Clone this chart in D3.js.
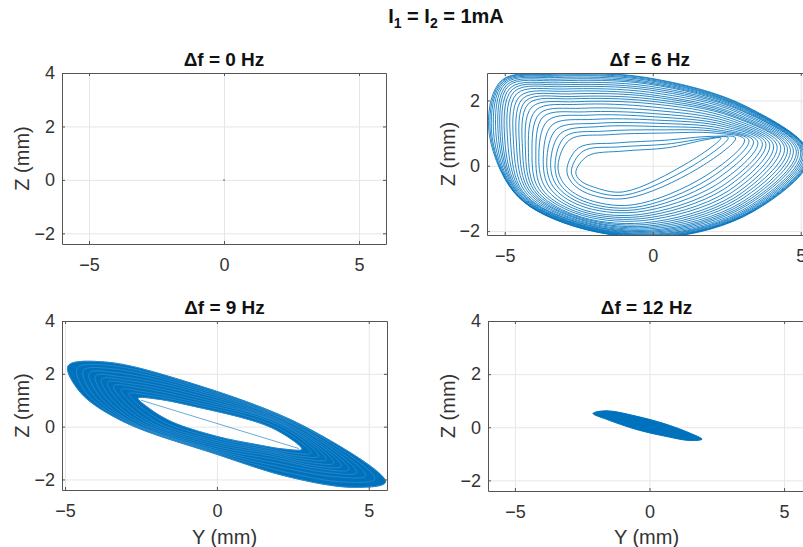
<!DOCTYPE html>
<html>
<head>
<meta charset="utf-8">
<script src="https://cdn.jsdelivr.net/npm/d3@7"></script>
<style>
  body { margin: 0; background: #fff; }
  svg { display: block; font-family: "Liberation Sans", Arial, sans-serif; }
</style>
</head>
<body>
<svg id="fig" width="803" height="547"></svg>
<script>
// ---- data (in mm) ----
const xTicks = [-5, 0, 5];
const zTicksTall = [-2, 0, 2, 4];
const zTicksShort = [-2, 0, 2];
const panelTitles = ["\u0394f = 0 Hz", "\u0394f = 6 Hz", "\u0394f = 9 Hz", "\u0394f = 12 Hz"];

// df = 0 Hz : the trajectory sits at the origin
const trace0 = [[0, 0]];

// df = 6 Hz : loops of the attractor, roughly inner to outer
const loops6 = [
  [[-2.6,-0.2],[-2.2,0.3],[-1.0,0.45],[0.5,0.55],[1.8,0.8],[2.3,0.85],[1.2,0.1],[-1.0,-0.8],[-2.0,-0.65],[-2.45,-0.45]],
  [[-2.75,-0.15],[-2.35,0.45],[-1.1,0.58],[0.45,0.66],[1.9,0.85],[2.55,0.86],[1.35,0.0],[-0.95,-0.9],[-2.1,-0.75],[-2.6,-0.48]],
  [[-2.9,-0.1],[-2.5,0.55],[-1.2,0.7],[0.4,0.78],[2.0,0.9],[2.8,0.85],[1.5,-0.1],[-0.9,-1.0],[-2.2,-0.85],[-2.75,-0.5]],
  [[-3.2,0.0],[-2.8,0.8],[-1.5,0.95],[0.3,1.0],[2.1,1.0],[3.1,0.8],[1.8,-0.3],[-0.7,-1.2],[-2.3,-1.0],[-3.0,-0.55]],
  [[-3.3,0.05],[-2.95,0.9],[-1.65,1.06],[0.25,1.1],[2.15,1.05],[3.25,0.78],[1.9,-0.4],[-0.65,-1.28],[-2.35,-1.08],[-3.12,-0.58]],
  [[-3.45,0.1],[-3.1,1.0],[-1.8,1.2],[0.2,1.2],[2.2,1.1],[3.4,0.75],[2.0,-0.5],[-0.6,-1.35],[-2.4,-1.15],[-3.25,-0.6]],
  [[-3.58,0.15],[-3.25,1.12],[-1.9,1.3],[0.15,1.3],[2.3,1.15],[3.55,0.72],[2.15,-0.58],[-0.55,-1.42],[-2.45,-1.22],[-3.38,-0.62]],
  [[-3.7,0.2],[-3.4,1.25],[-2.0,1.42],[0.1,1.4],[2.4,1.2],[3.7,0.7],[2.3,-0.65],[-0.5,-1.5],[-2.5,-1.3],[-3.5,-0.65]],
  [[-3.85,0.25],[-3.55,1.38],[-2.15,1.55],[0.05,1.5],[2.45,1.25],[3.82,0.68],[2.4,-0.72],[-0.45,-1.56],[-2.55,-1.35],[-3.62,-0.68]],
  [[-3.95,0.3],[-3.7,1.5],[-2.3,1.65],[0.0,1.6],[2.5,1.3],[3.95,0.65],[2.5,-0.8],[-0.4,-1.62],[-2.6,-1.4],[-3.75,-0.7]],
  [[-4.08,0.35],[-3.82,1.6],[-2.4,1.76],[0.0,1.7],[2.55,1.35],[4.08,0.62],[2.6,-0.86],[-0.35,-1.68],[-2.62,-1.45],[-3.85,-0.71]],
  [[-4.2,0.4],[-3.95,1.7],[-2.5,1.88],[0.0,1.8],[2.6,1.4],[4.2,0.6],[2.7,-0.92],[-0.3,-1.75],[-2.65,-1.5],[-3.95,-0.72]],
  [[-4.3,0.45],[-4.08,1.8],[-2.6,1.96],[-0.05,1.9],[2.65,1.45],[4.32,0.58],[2.78,-0.97],[-0.25,-1.8],[-2.68,-1.52],[-4.02,-0.74]],
  [[-4.4,0.5],[-4.2,1.9],[-2.7,2.05],[-0.1,1.98],[2.7,1.5],[4.45,0.55],[2.85,-1.02],[-0.2,-1.85],[-2.7,-1.55],[-4.1,-0.75]],
  [[-4.5,0.55],[-4.3,1.98],[-2.75,2.12],[-0.1,2.05],[2.75,1.52],[4.55,0.52],[2.92,-1.07],[-0.15,-1.89],[-2.72,-1.57],[-4.18,-0.75]],
  [[-4.6,0.6],[-4.4,2.05],[-2.8,2.2],[-0.1,2.12],[2.8,1.55],[4.65,0.5],[3.0,-1.12],[-0.1,-1.93],[-2.75,-1.6],[-4.25,-0.76]],
  [[-4.7,0.65],[-4.5,2.12],[-2.9,2.28],[-0.1,2.18],[2.85,1.58],[4.75,0.48],[3.05,-1.16],[-0.05,-1.97],[-2.78,-1.62],[-4.33,-0.77]],
  [[-4.8,0.7],[-4.6,2.2],[-3.0,2.35],[-0.1,2.25],[2.9,1.62],[4.85,0.45],[3.1,-1.2],[0.0,-2.0],[-2.8,-1.65],[-4.4,-0.78]],
  [[-4.9,0.75],[-4.68,2.27],[-3.05,2.42],[-0.12,2.32],[2.95,1.65],[4.92,0.44],[3.15,-1.23],[0.05,-2.03],[-2.82,-1.66],[-4.45,-0.78]],
  [[-5.0,0.8],[-4.75,2.33],[-3.1,2.48],[-0.15,2.38],[3.0,1.68],[5.0,0.42],[3.2,-1.27],[0.1,-2.06],[-2.85,-1.68],[-4.5,-0.78]],
  [[-5.08,0.85],[-4.82,2.38],[-3.15,2.54],[-0.15,2.44],[3.02,1.7],[5.05,0.4],[3.24,-1.3],[0.15,-2.09],[-2.88,-1.69],[-4.54,-0.79]],
  [[-5.15,0.9],[-4.88,2.44],[-3.2,2.6],[-0.15,2.5],[3.05,1.72],[5.1,0.38],[3.28,-1.32],[0.2,-2.11],[-2.9,-1.7],[-4.58,-0.79]],
  [[-5.22,0.95],[-4.93,2.48],[-3.24,2.65],[-0.18,2.54],[3.08,1.74],[5.15,0.36],[3.31,-1.34],[0.22,-2.13],[-2.92,-1.71],[-4.61,-0.79]],
  [[-5.3,1.0],[-4.98,2.52],[-3.28,2.7],[-0.2,2.58],[3.1,1.76],[5.2,0.35],[3.34,-1.36],[0.25,-2.15],[-2.95,-1.72],[-4.64,-0.8]],
  [[-5.38,1.05],[-5.02,2.55],[-3.32,2.74],[-0.2,2.62],[3.12,1.77],[5.23,0.33],[3.36,-1.37],[0.27,-2.17],[-2.97,-1.73],[-4.66,-0.8]],
  [[-5.45,1.1],[-5.05,2.58],[-3.35,2.77],[-0.2,2.65],[3.15,1.78],[5.26,0.32],[3.38,-1.38],[0.28,-2.18],[-2.98,-1.74],[-4.68,-0.8]],
  [[-5.5,1.15],[-5.08,2.6],[-3.38,2.8],[-0.2,2.68],[3.18,1.79],[5.28,0.31],[3.39,-1.39],[0.29,-2.19],[-2.99,-1.75],[-4.69,-0.8]],
  [[-5.55,1.2],[-5.1,2.62],[-3.4,2.82],[-0.2,2.7],[3.2,1.8],[5.3,0.3],[3.4,-1.4],[0.3,-2.2],[-3.0,-1.75],[-4.7,-0.8]]
];

// df = 9 Hz : tilted ring, inner edge first, outer edge last
const loops9 = [
  [[-2.6,1.08],[-2.0,1.05],[-1.0,0.83],[1.8,-0.04],[2.8,-0.86],[2.2,-0.85],[1.26,-0.67],[0.0,-0.37],[-1.5,0.19],[-2.3,0.75]],
  [[-2.9,1.25],[-2.2,1.18],[-1.0,0.92],[1.9,0.02],[3.1,-1.0],[2.4,-0.98],[1.4,-0.76],[0.0,-0.45],[-1.7,0.15],[-2.6,0.85]],
  [[-3.15,1.4],[-2.4,1.32],[-1.0,1.0],[2.0,0.08],[3.35,-1.12],[2.6,-1.1],[1.5,-0.85],[0.0,-0.53],[-1.9,0.12],[-2.85,0.93]],
  [[-3.4,1.55],[-2.6,1.48],[-1.0,1.1],[2.1,0.1],[3.6,-1.25],[2.8,-1.22],[1.6,-0.93],[0.0,-0.6],[-2.1,0.12],[-3.1,1.0]],
  [[-3.6,1.68],[-2.8,1.62],[-1.0,1.2],[2.2,0.08],[3.85,-1.38],[3.0,-1.35],[1.7,-1.02],[0.0,-0.68],[-2.3,0.15],[-3.3,1.05]],
  [[-3.8,1.8],[-3.0,1.76],[-1.0,1.3],[2.3,0.08],[4.1,-1.5],[3.2,-1.48],[1.8,-1.12],[0.0,-0.76],[-2.5,0.17],[-3.5,1.1]],
  [[-4.0,1.92],[-3.2,1.9],[-1.0,1.4],[2.4,0.07],[4.35,-1.62],[3.4,-1.6],[1.95,-1.25],[0.0,-0.84],[-2.65,0.18],[-3.7,1.15]],
  [[-4.2,2.03],[-3.35,2.05],[-1.0,1.48],[2.55,0.06],[4.6,-1.74],[3.65,-1.74],[2.05,-1.4],[0.0,-0.9],[-2.8,0.18],[-3.9,1.2]],
  [[-4.4,2.13],[-3.5,2.2],[-1.0,1.56],[2.65,0.04],[4.9,-1.86],[3.9,-1.9],[2.15,-1.55],[0.0,-0.95],[-2.9,0.19],[-4.1,1.24]],
  [[-4.6,2.22],[-3.6,2.33],[-1.0,1.63],[2.8,0.02],[5.2,-1.98],[4.2,-2.1],[2.25,-1.72],[0.0,-1.0],[-3.0,0.2],[-4.3,1.27]],
  [[-4.9,2.3],[-3.7,2.45],[-1.0,1.7],[2.9,0.0],[5.55,-2.1],[4.5,-2.3],[2.35,-1.9],[0.0,-1.05],[-3.1,0.2],[-4.5,1.3]]
];
// thin transit line across the hole of the 9 Hz ring
const chord9 = [[-2.5, 1.0], [2.7, -0.83]];

// df = 12 Hz : small thin ellipse
const loops12 = [
  [[-2.1,0.52],[-1.6,0.62],[-0.5,0.42],[0.6,0.12],[1.5,-0.22],[1.95,-0.45],[1.5,-0.5],[0.5,-0.32],[-0.5,-0.08],[-1.6,0.3]],
  [[-1.9,0.48],[-1.4,0.52],[-0.5,0.33],[0.6,0.05],[1.4,-0.22],[1.75,-0.4],[1.3,-0.43],[0.5,-0.25],[-0.5,0.0],[-1.4,0.33]],
  [[-1.6,0.42],[-1.1,0.42],[-0.4,0.25],[0.5,0.02],[1.2,-0.2],[1.5,-0.33],[1.1,-0.35],[0.4,-0.18],[-0.4,0.05],[-1.1,0.3]]
];

// ---- layout ----
const svg = d3.select("#fig");
const blue = "#0072BD";

const panels = [
  { x0: 62,  x1: 386,   y0: 73,  y1: 244, xd: [-6, 6],     zd: [-2.4, 4],     zt: zTicksTall,  xlab: false },
  { x0: 487, x1: 818.5, y0: 73,  y1: 235, xd: [-5.6, 5.6], zd: [-2.12, 2.84], zt: zTicksShort, xlab: false },
  { x0: 62,  x1: 387,   y0: 321, y1: 490, xd: [-5.1, 5.6], zd: [-2.4, 4],     zt: zTicksTall,  xlab: true },
  { x0: 488, x1: 811,   y0: 321, y1: 491, xd: [-6, 6],     zd: [-2.4, 4],     zt: zTicksTall,  xlab: true }
];

const defs = svg.append("defs");

function styleAxis(s) {
  s.attr("font-size", null).attr("font-family", null);
  s.select(".domain").attr("stroke", "#555").attr("stroke-width", 1);
  s.selectAll(".tick line").attr("stroke", "#555");
  s.selectAll("text").attr("fill", "#333").attr("font-size", 18);
}

panels.forEach((p, i) => {
  const x = d3.scaleLinear().domain(p.xd).range([p.x0, p.x1]);
  const y = d3.scaleLinear().domain(p.zd).range([p.y1, p.y0]);
  const w = p.x1 - p.x0, h = p.y1 - p.y0;
  const g = svg.append("g");

  defs.append("clipPath").attr("id", "clip" + i)
    .append("rect").attr("x", p.x0).attr("y", p.y0).attr("width", w).attr("height", h);

  // grid
  g.append("g").attr("transform", `translate(0,${p.y1})`)
    .call(d3.axisBottom(x).tickValues(xTicks).tickSize(-h).tickFormat(""))
    .call(s => { s.select(".domain").remove(); s.selectAll("line").attr("stroke", "#e6e6e6"); });
  g.append("g").attr("transform", `translate(${p.x0},0)`)
    .call(d3.axisLeft(y).tickValues(p.zt).tickSize(-w).tickFormat(""))
    .call(s => { s.select(".domain").remove(); s.selectAll("line").attr("stroke", "#e6e6e6"); });

  // data
  const plot = g.append("g").attr("clip-path", `url(#clip${i})`);
  const loop = d3.line().x(d => x(d[0])).y(d => y(d[1])).curve(d3.curveCatmullRomClosed.alpha(0.5));
  const seg = d3.line().x(d => x(d[0])).y(d => y(d[1]));

  if (i === 0) {
    plot.selectAll("circle").data(trace0).join("circle")
      .attr("cx", d => x(d[0])).attr("cy", d => y(d[1])).attr("r", 1)
      .attr("fill", "#8a96a3");
  }
  if (i === 1) {
    plot.selectAll("path").data(loops6).join("path")
      .attr("d", loop).attr("fill", "none").attr("stroke", blue)
      .attr("stroke-width", 0.85);
  }
  if (i === 2) {
    // band between the inner and the outer loop
    plot.append("path")
      .attr("d", loop(loops9[loops9.length - 1]) + loop(loops9[0]))
      .attr("fill", blue).attr("fill-rule", "evenodd").attr("stroke", blue).attr("stroke-width", 1);
    plot.selectAll("path.ring").data(loops9).join("path").attr("class", "ring")
      .attr("d", loop).attr("fill", "none").attr("stroke", "#4a9ad6").attr("stroke-width", 0.5);
    plot.append("path").datum(chord9).attr("d", seg)
      .attr("fill", "none").attr("stroke", blue).attr("stroke-width", 0.6);
  }
  if (i === 3) {
    plot.append("path").datum(loops12[0]).attr("d", loop).attr("fill", blue).attr("stroke", "none");
    plot.selectAll("path.l12").data(loops12).join("path").attr("class", "l12")
      .attr("d", loop).attr("fill", "none").attr("stroke", blue).attr("stroke-width", 1);
  }

  // box with inward ticks
  const fmt = d3.format("d");
  g.append("g").attr("transform", `translate(0,${p.y1})`)
    .call(d3.axisBottom(x).tickValues(xTicks).tickFormat(fmt).tickSizeInner(-3).tickSizeOuter(0).tickPadding(14))
    .call(styleAxis);
  g.append("g").attr("transform", `translate(0,${p.y0})`)
    .call(d3.axisTop(x).tickValues(xTicks).tickSizeInner(-3).tickSizeOuter(0).tickFormat(""))
    .call(styleAxis);
  g.append("g").attr("transform", `translate(${p.x0},0)`)
    .call(d3.axisLeft(y).tickValues(p.zt).tickFormat(fmt).tickSizeInner(-3).tickSizeOuter(0).tickPadding(7))
    .call(styleAxis);
  g.append("g").attr("transform", `translate(${p.x1},0)`)
    .call(d3.axisRight(y).tickValues(p.zt).tickSizeInner(-3).tickSizeOuter(0).tickFormat(""))
    .call(styleAxis);

  // titles and labels
  const cx = (p.x0 + p.x1) / 2;
  const tcx = i % 2 ? cx - 3 : cx;
  g.append("text").attr("x", tcx).attr("y", p.y0 - 7)
    .attr("text-anchor", "middle").attr("font-weight", "bold").attr("font-size", 19)
    .attr("fill", "#111").text(panelTitles[i]);

  const lx = p.x0 < 300 ? 29 : 455;
  g.append("text").attr("transform", `translate(${lx},${(p.y0 + p.y1) / 2}) rotate(-90)`)
    .attr("text-anchor", "middle").attr("font-size", 20).attr("fill", "#333").text("Z (mm)");

  if (p.xlab) {
    g.append("text").attr("x", i % 2 ? cx - 3 : cx).attr("y", 544)
      .attr("text-anchor", "middle").attr("font-size", 20).attr("fill", "#333").text("Y (mm)");
  }
});

// figure title: I1 = I2 = 1mA
const t = svg.append("text").attr("x", 446).attr("y", 23)
  .attr("text-anchor", "middle").attr("font-weight", "bold").attr("font-size", 20).attr("fill", "#111");
t.append("tspan").text("I");
t.append("tspan").attr("font-size", 14).attr("dy", 5).text("1");
t.append("tspan").attr("dy", -5).text(" = I");
t.append("tspan").attr("font-size", 14).attr("dy", 5).text("2");
t.append("tspan").attr("dy", -5).text(" = 1mA");
</script>
</body>
</html>
